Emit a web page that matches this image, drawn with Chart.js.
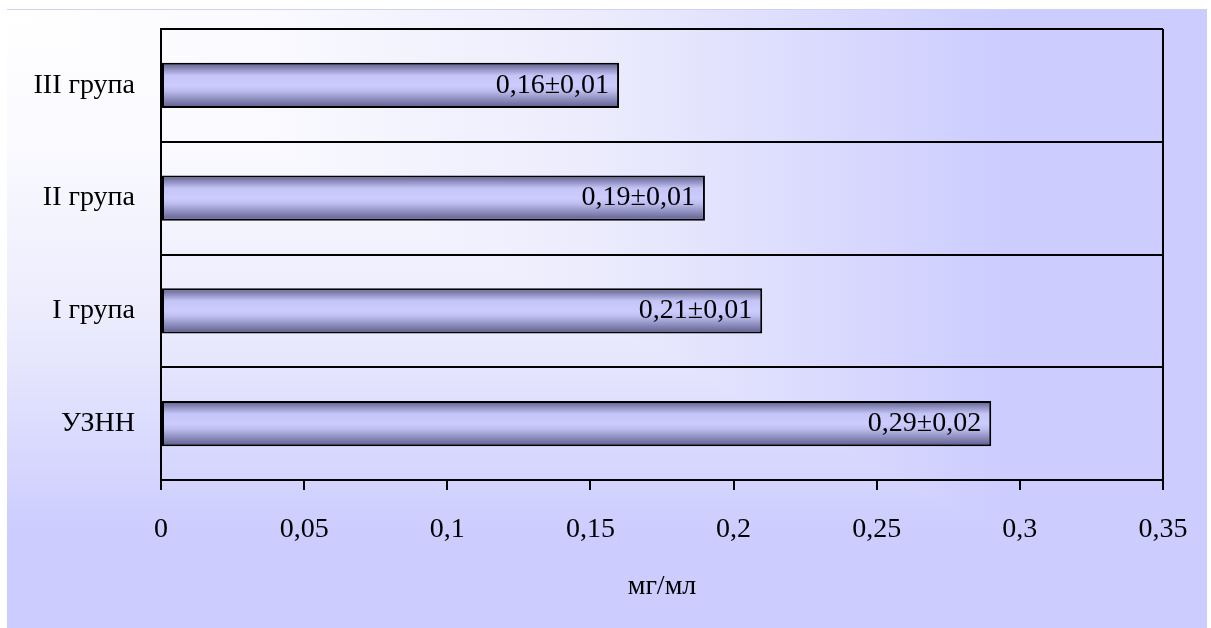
<!DOCTYPE html>
<html>
<head>
<meta charset="utf-8">
<script src="https://cdn.jsdelivr.net/npm/chart.js@4/dist/chart.umd.min.js"></script>
<style>
html,body{margin:0;padding:0;background:#fff;}
canvas{display:block;}
</style>
</head>
<body>
<canvas id="c" width="1211" height="628"></canvas>
<script>
const categories = ['III група', 'II група', 'I група', 'УЗНН'];
const values = [0.16, 0.19, 0.21, 0.29];
const errors = [0.01, 0.01, 0.01, 0.02];
const xTickLabels = ['0', '0,05', '0,1', '0,15', '0,2', '0,25', '0,3', '0,35'];
const xTitle = 'мг/мл';

const fmt = v => v.toFixed(2).replace('.', ',');
const barLabels = values.map((v, i) => fmt(v) + '±' + fmt(errors[i]));

Chart.defaults.font.family = "'Liberation Serif', 'Times New Roman', serif";
Chart.defaults.font.size = 28;
Chart.defaults.color = '#000';

const CAT_PCT = 0.8, BAR_PCT = 0.5;

function addStops(g) {
  g.addColorStop(0, '#ffffff');
  g.addColorStop(0.25, '#fafaff');
  g.addColorStop(0.6, '#ebebfd');
  g.addColorStop(1, '#ccccff');
}

const bgPlugin = {
  id: 'bg',
  beforeDraw(chart) {
    const ctx = chart.ctx;
    const x0 = 7, y0 = 9, x1 = 1207, y1 = 628;
    const Ws = 1000, Hs = 525;
    ctx.save();
    const gh = ctx.createLinearGradient(x0, 0, x0 + Ws, 0);
    addStops(gh);
    ctx.fillStyle = gh;
    ctx.fillRect(x0, y0, x1 - x0, y1 - y0);
    ctx.beginPath();
    ctx.moveTo(x0, y0);
    ctx.lineTo(x0 + Ws, y0 + Hs);
    ctx.lineTo(x1, y0 + Hs);
    ctx.lineTo(x1, y1);
    ctx.lineTo(x0, y1);
    ctx.closePath();
    ctx.clip();
    const gv = ctx.createLinearGradient(0, y0, 0, y0 + Hs);
    addStops(gv);
    ctx.fillStyle = gv;
    ctx.fillRect(x0, y0, x1 - x0, y1 - y0);
    ctx.restore();
    ctx.save();
    ctx.strokeStyle = '#d0d0f4';
    ctx.lineWidth = 1;
    ctx.beginPath();
    ctx.moveTo(x0, y0 + 0.5);
    ctx.lineTo(x1, y0 + 0.5);
    ctx.stroke();
    ctx.restore();
  }
};

const framePlugin = {
  id: 'frame',
  afterDatasetsDraw(chart) {
    const {ctx, chartArea: a} = chart;
    ctx.save();
    ctx.strokeStyle = '#000';
    ctx.lineWidth = 2;
    ctx.beginPath();
    ctx.moveTo(a.right, a.top);
    ctx.lineTo(a.right, a.bottom);
    ctx.stroke();
    const meta = chart.getDatasetMeta(0);
    ctx.font = "28px 'Liberation Serif', 'Times New Roman', serif";
    ctx.fillStyle = '#000';
    ctx.textAlign = 'right';
    ctx.textBaseline = 'middle';
    meta.data.forEach((el, i) => {
      ctx.fillText(barLabels[i], el.x - 10, el.y);
    });
    ctx.restore();
  }
};

new Chart(document.getElementById('c'), {
  type: 'bar',
  data: {
    labels: categories,
    datasets: [{
      data: values,
      categoryPercentage: CAT_PCT,
      barPercentage: BAR_PCT,
      borderColor: '#000',
      borderWidth: 2,
      borderSkipped: false,
      backgroundColor(context) {
        const chart = context.chart;
        const ys = chart.scales.y;
        if (!ys || !chart.chartArea) return '#9999cc';
        const yc = ys.getPixelForValue(context.dataIndex);
        const band = Math.abs(ys.getPixelForValue(1) - ys.getPixelForValue(0));
        const h = band * CAT_PCT * BAR_PCT;
        const g = chart.ctx.createLinearGradient(0, yc - h / 2, 0, yc + h / 2);
        g.addColorStop(0, '#5c5c8c');
        g.addColorStop(0.28, '#c4c4f6');
        g.addColorStop(0.5, '#ccccff');
        g.addColorStop(0.62, '#bdbdee');
        g.addColorStop(1, '#5c5c8c');
        return g;
      }
    }]
  },
  options: {
    indexAxis: 'y',
    responsive: false,
    animation: false,
    layout: {padding: {top: 29, right: 48, left: 0, bottom: 0}},
    plugins: {legend: {display: false}, tooltip: {enabled: false}},
    scales: {
      x: {
        min: 0,
        max: 0.35,
        ticks: {
          stepSize: 0.05,
          padding: 23,
          callback: (v, i) => xTickLabels[i],
          font: {size: 28}
        },
        grid: {drawOnChartArea: false, drawTicks: true, tickLength: 10, color: '#000', lineWidth: 2},
        border: {display: true, color: '#000', width: 2},
        title: {display: true, text: xTitle, font: {size: 28}, padding: {top: 0, bottom: 25}},
        afterFit(s) { s.height = 148; }
      },
      y: {
        ticks: {padding: 26, font: {size: 28}},
        grid: {offset: true, drawTicks: false, color: '#000', lineWidth: 2},
        border: {display: true, color: '#000', width: 2},
        afterFit(s) { s.width = 161; s.paddingTop = 0; s.paddingBottom = 0; }
      }
    }
  },
  plugins: [bgPlugin, framePlugin]
});
</script>
</body>
</html>
